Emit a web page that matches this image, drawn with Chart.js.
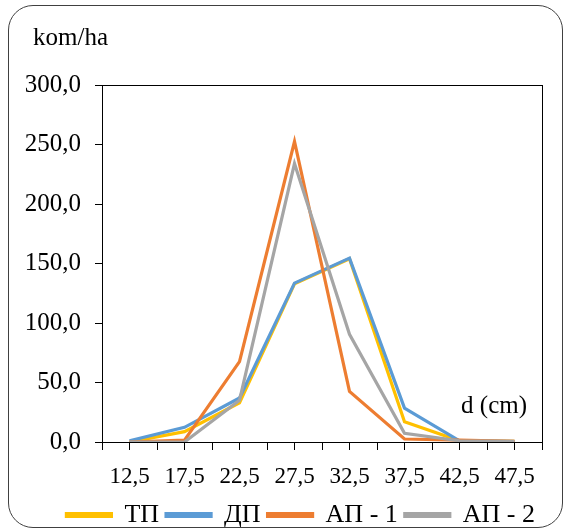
<!DOCTYPE html>
<html>
<head>
<meta charset="utf-8">
<script src="https://cdn.jsdelivr.net/npm/chart.js@4/dist/chart.umd.min.js"></script>
<style>
  html, body { margin: 0; padding: 0; background: #fff; }
  #wrap { position: relative; width: 569px; height: 531px; }
  #frame {
    position: absolute; left: 8px; top: 5px; width: 553px; height: 521px;
    border: 1.5px solid #404040; border-radius: 25px; pointer-events: none;
  }
  canvas { position: absolute; left: 0; top: 0; }
</style>
</head>
<body>
<div id="wrap">
  <canvas id="myChart" width="569" height="531"></canvas>
  <div id="frame"></div>
</div>
<script>
'use strict';

// diameter classes (cm)
const categories = [12.5, 17.5, 22.5, 27.5, 32.5, 37.5, 42.5, 47.5];

// trees per ha
const tp = [0, 8.7, 33, 133, 154, 17, 1, 0.5];
const dp = [1, 12.3, 37, 133.5, 154.5, 28.5, 1, 0.3];
const ap1 = [0, 1.5, 67.5, 252.5, 42.5, 2.5, 1.5, 0.5];
const ap2 = [0, 0, 35, 234, 90.5, 7.3, 1, 0.5];

const seriesNames = ['ТП', 'ДП', 'АП - 1', 'АП - 2'];
const yTicks = [0, 50, 100, 150, 200, 250, 300];

const serif = '"Liberation Serif", serif';

function toPoints(vals) {
	return vals.map((v, i) => ({ x: categories[i], y: v }));
}

function line(label, vals, color, order) {
	return {
		label: label,
		data: toPoints(vals),
		borderColor: color,
		backgroundColor: color,
		borderWidth: 3.2,
		pointRadius: 0,
		tension: 0,
		order: order
	};
}

// frame round the plot + the two axis captions
const extras = {
	id: 'extras',
	beforeDatasetsDraw(chart) {
		const a = chart.chartArea;
		const c = chart.ctx;
		c.save();
		c.strokeStyle = '#000';
		c.lineWidth = 1;
		c.strokeRect(a.left + 0.5, a.top + 0.5, a.right - a.left, a.bottom - a.top);
		c.restore();
	},
	afterDraw(chart) {
		const a = chart.chartArea;
		const c = chart.ctx;
		c.save();
		c.fillStyle = '#000';
		c.font = '25px "Liberation Serif"';
		c.textBaseline = 'alphabetic';
		c.textAlign = 'left';
		c.fillText('kom/ha', 33, 45);
		c.textAlign = 'right';
		c.fillText('d (cm)', a.right - 15, a.bottom - 29);
		c.restore();
	}
};

let ctx = document.getElementById('myChart');

let myChart = new Chart(ctx, {
	type: 'line',
	data: {
		datasets: [
			line(seriesNames[0], tp, '#FFC000', 3),
			line(seriesNames[1], dp, '#5B9BD5', 2),
			line(seriesNames[2], ap1, '#ED7D31', 1),
			line(seriesNames[3], ap2, '#A5A5A5', 0)
		]
	},
	options: {
		responsive: false,
		animation: false,
		layout: { padding: { left: 0, right: 27, top: 85, bottom: -7 } },
		plugins: {
			legend: {
				position: 'bottom',
				align: 'end',
				labels: {
					boxWidth: 45,
					boxHeight: 3,
					padding: 7,
					color: '#000',
					font: { family: serif, size: 26 },
					sort: (a, b) => a.datasetIndex - b.datasetIndex
				}
			},
			tooltip: { enabled: false }
		},
		scales: {
			x: {
				type: 'linear',
				min: 10,
				max: 50,
				afterFit(scale) { scale.height = 53; },
				afterBuildTicks(scale) {
					scale.ticks = [];
					for (let v = 10; v <= 50; v += 2.5) scale.ticks.push({ value: v });
				},
				ticks: {
					autoSkip: false,
					maxRotation: 0,
					padding: 13,
					color: '#000',
					font: { family: serif, size: 23 },
					callback: v => categories.includes(v) ? v.toFixed(1).replace('.', ',') : ''
				},
				grid: { drawOnChartArea: false, tickLength: 8, color: '#000' },
				border: { color: '#000', width: 1 }
			},
			y: {
				min: 0,
				max: 300,
				afterFit(scale) { scale.width = 102; },
				afterBuildTicks(scale) {
					scale.ticks = yTicks.map(v => ({ value: v }));
				},
				ticks: {
					padding: 14,
					color: '#000',
					font: { family: serif, size: 25 },
					callback: v => v.toFixed(1).replace('.', ',')
				},
				grid: { drawOnChartArea: false, tickLength: 7, color: '#000' },
				border: { color: '#000', width: 1 }
			}
		}
	},
	plugins: [extras]
});
</script>
</body>
</html>
